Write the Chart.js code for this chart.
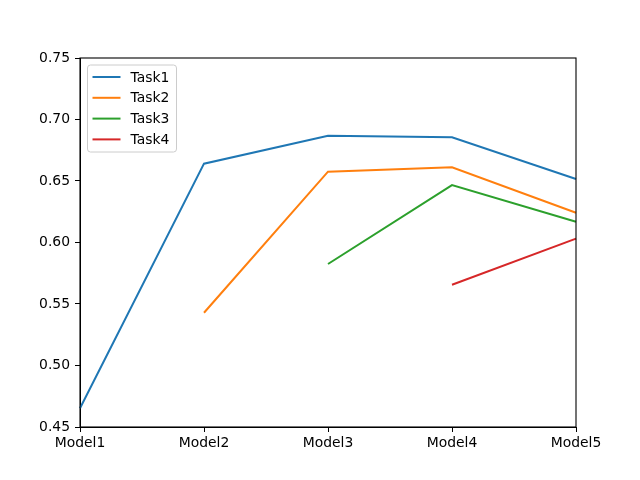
<!DOCTYPE html>
<html>
<head>
<meta charset="utf-8">
<script src="https://cdn.jsdelivr.net/npm/chart.js@4"></script>
<style>
  html, body { margin:0; padding:0; background:#fff; }
  canvas { display:block; }
</style>
</head>
<body>
<canvas id="c" width="640" height="480"></canvas>
<script>
// data
const models = ['Model1','Model2','Model3','Model4','Model5'];
const task1 = [0.4652, 0.6641, 0.6868, 0.6855, 0.6516];
const task2 = [null, 0.5429, 0.6576, 0.6611, 0.6242];
const task3 = [null, null, 0.5825, 0.6467, 0.6169];
const task4 = [null, null, null, 0.5657, 0.6031];
const yTicks = [0.45, 0.50, 0.55, 0.60, 0.65, 0.70, 0.75];

const FONT = 'DejaVu Sans, sans-serif';
const FS = 13.9;

// frame (all four spines) + matplotlib-like legend, upper left
const framePlugin = {
  id: 'frame',
  afterDraw(chart){
    const {ctx, chartArea:a} = chart;
    ctx.save();
    ctx.strokeStyle = '#000'; ctx.lineWidth = 1.1;
    ctx.strokeRect(a.left, a.top, a.right - a.left, a.bottom - a.top);

    // legend
    const x0 = a.left + 7.5, y0 = a.top + 7;
    const w = 89, h = 87;
    ctx.beginPath();
    ctx.roundRect(x0, y0, w, h, 3);
    ctx.fillStyle = 'rgba(255,255,255,0.8)'; ctx.fill();
    ctx.strokeStyle = '#cccccc'; ctx.lineWidth = 1; ctx.stroke();
    ctx.font = FS + 'px ' + FONT;
    ctx.textBaseline = 'middle';
    chart.data.datasets.forEach((ds, i) => {
      const yy = y0 + 12 + i * 20.8;
      ctx.beginPath();
      ctx.moveTo(x0 + 5, yy); ctx.lineTo(x0 + 33, yy);
      ctx.strokeStyle = ds.borderColor; ctx.lineWidth = 2; ctx.stroke();
      ctx.fillStyle = '#000';
      ctx.fillText(ds.label, x0 + 43, yy + 1);
    });
    ctx.restore();
  }
};

const mk = (label, data, color) => ({
  label, data, borderColor: color, backgroundColor: color,
  borderWidth: 2, pointRadius: 0, tension: 0, spanGaps: false
});

new Chart(document.getElementById('c'), {
  type: 'line',
  data: {
    labels: models,
    datasets: [
      mk('Task1', task1, '#1f77b4'),
      mk('Task2', task2, '#ff7f0e'),
      mk('Task3', task3, '#2ca02c'),
      mk('Task4', task4, '#d62728')
    ]
  },
  options: {
    responsive: false, animation: false,
    layout: { padding: { top: 58, right: 64, left: 0, bottom: 0 } },
    plugins: { legend: { display: false }, tooltip: { enabled: false } },
    scales: {
      x: {
        offset: false,
        grid: { drawOnChartArea: false, drawTicks: true, tickLength: 5, color: '#000', tickWidth: 1 },
        border: { color: '#000', width: 1 },
        ticks: { color: '#000', font: { family: FONT, size: FS }, padding: 3, maxRotation: 0, autoSkip: false },
        afterFit(s){ s.height = 53; }
      },
      y: {
        min: 0.45, max: 0.75,
        afterBuildTicks(s){ s.ticks = yTicks.map(v => ({ value: v })); },
        grid: { drawOnChartArea: false, drawTicks: true, tickLength: 5, color: '#000', tickWidth: 1 },
        border: { color: '#000', width: 1 },
        ticks: { color: '#000', font: { family: FONT, size: FS }, padding: 5, callback: v => v.toFixed(2) },
        afterFit(s){ s.width = 80; }
      }
    }
  },
  plugins: [framePlugin]
});
</script>
</body>
</html>
